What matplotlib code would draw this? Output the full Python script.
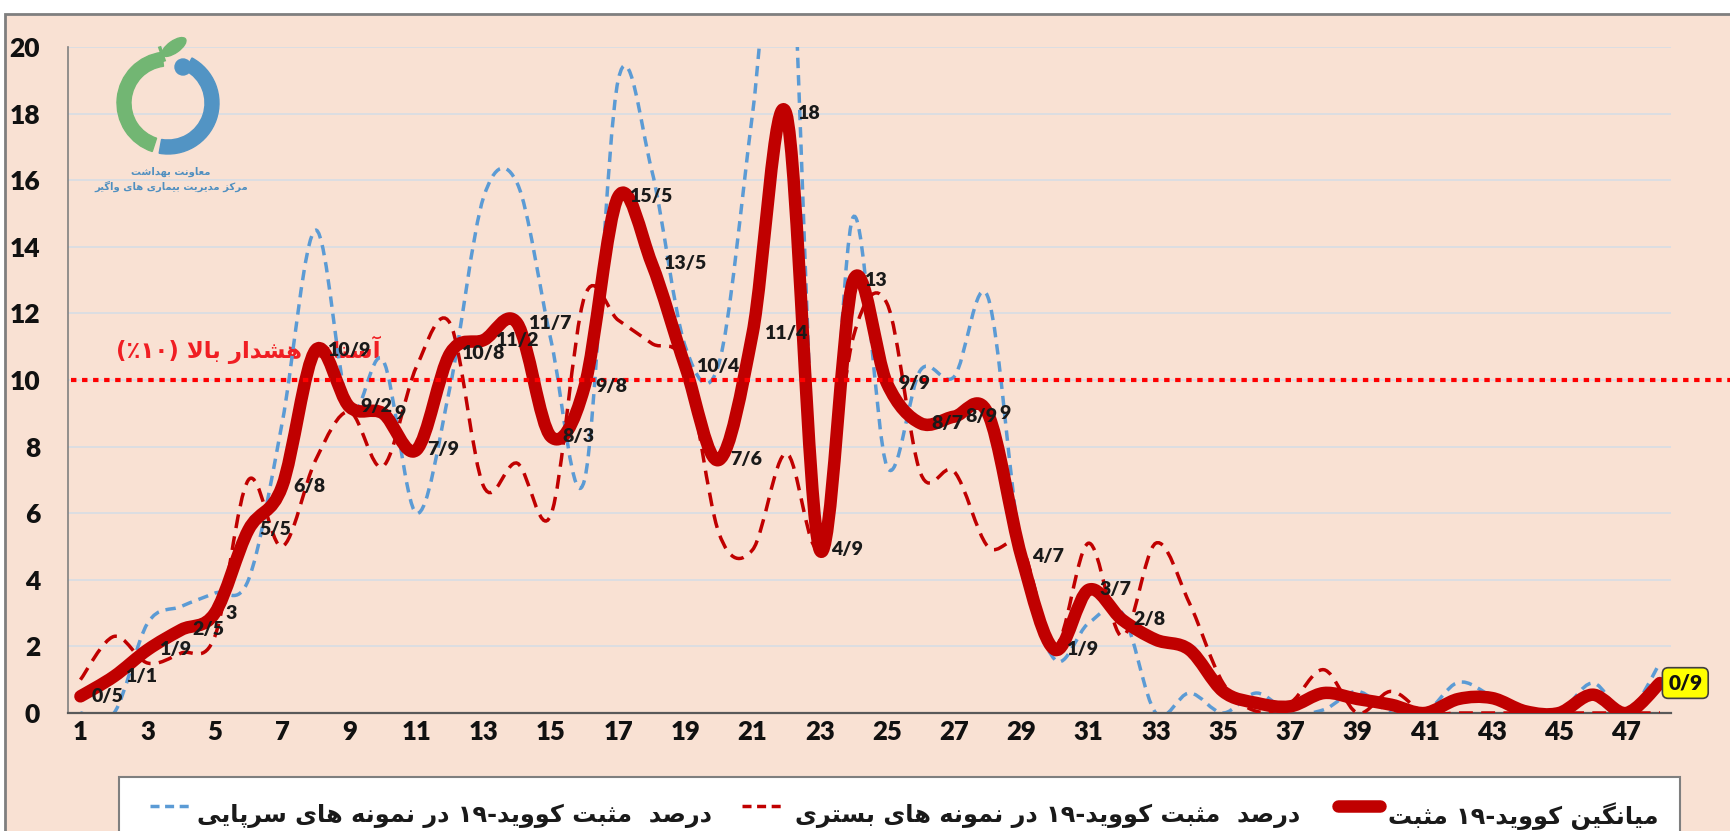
import numpy as np
import matplotlib.pyplot as plt
from matplotlib.path import Path
from matplotlib.patches import PathPatch, Rectangle, Wedge, Circle, Ellipse
from matplotlib.lines import Line2D

plt.rcParams['font.family'] = ['Lato', 'DejaVu Sans']

# ---- data (weekly % positive) ----
weeks = list(range(1, 49))
avg_pos = [0.5, 1.1, 1.9, 2.5, 3.0, 5.5, 6.8, 10.9, 9.2, 9.0, 7.9, 10.8, 11.2, 11.7, 8.3, 9.8,
           15.5, 13.5, 10.4, 7.6, 11.4, 18.0, 4.9, 13.0, 9.9, 8.7, 8.9, 9.0, 4.7, 1.9, 3.7, 2.8,
           2.2, 1.9, 0.65, 0.3, 0.2, 0.6, 0.42, 0.25, 0.0, 0.42, 0.45, 0.05, 0.0, 0.55, 0.0, 0.9]
outpatient_pos = [0.0, 0.0, 2.7, 3.2, 3.6, 4.0, 8.7, 14.5, 9.1, 10.6, 6.0, 9.8, 15.5, 15.9, 11.2, 7.0,
                  19.0, 16.3, 11.0, 10.5, 18.0, 26.0, 5.0, 14.9, 7.4, 10.3, 10.1, 12.5, 4.8, 1.6, 2.7, 3.0,
                  0.0, 0.6, 0.0, 0.6, 0.0, 0.1, 0.65, 0.0, 0.0, 0.92, 0.5, 0.0, 0.0, 0.9, 0.0, 1.5]
inpatient_pos = [1.0, 2.3, 1.5, 1.8, 2.3, 7.0, 5.0, 7.6, 9.05, 7.4, 10.4, 11.7, 6.8, 7.5, 5.95, 12.5,
                 11.8, 11.1, 10.4, 5.4, 4.9, 7.8, 5.0, 11.3, 12.3, 7.2, 7.25, 5.0, 5.0, 2.0, 5.1, 2.3,
                 5.1, 3.3, 0.9, 0.05, 0.3, 1.3, 0.0, 0.65, 0.0, 0.0, 0.0, 0.0, 0.0, 0.0, 0.0, 0.0]
n_labelled = 32
xtick_weeks = list(range(1, 48, 2))
yticks = list(range(0, 21, 2))
threshold = 10

txt_threshold = 'آستانه هشدار بالا (۱۰٪)'
txt_avg = 'میانگین کووید-۱۹ مثبت'
txt_inpatient = 'درصد  مثبت کووید-۱۹ در نمونه های بستری'
txt_outpatient = 'درصد  مثبت کووید-۱۹ در نمونه های سرپایی'
txt_logo1 = 'معاونت بهداشت'
txt_logo2 = 'مرکز مدیریت بیماری های واگیر'

# ---- minimal Persian shaping (matplotlib has no text shaping) ----
FORMS = {
    'ا': ('\uFE8D', '\uFE8E', None, None), 'آ': ('\uFE81', '\uFE82', None, None),
    'ب': ('\uFE8F', '\uFE90', '\uFE91', '\uFE92'), 'پ': ('\uFB56', '\uFB57', '\uFB58', '\uFB59'),
    'ت': ('\uFE95', '\uFE96', '\uFE97', '\uFE98'), 'ث': ('\uFE99', '\uFE9A', '\uFE9B', '\uFE9C'),
    'د': ('\uFEA9', '\uFEAA', None, None), 'ر': ('\uFEAD', '\uFEAE', None, None),
    'ز': ('\uFEAF', '\uFEB0', None, None), 'س': ('\uFEB1', '\uFEB2', '\uFEB3', '\uFEB4'),
    'ش': ('\uFEB5', '\uFEB6', '\uFEB7', '\uFEB8'), 'ص': ('\uFEB9', '\uFEBA', '\uFEBB', '\uFEBC'),
    'ع': ('\uFEC9', '\uFECA', '\uFECB', '\uFECC'), 'ک': ('\uFB8E', '\uFB8F', '\uFB90', '\uFB91'),
    'گ': ('\uFB92', '\uFB93', '\uFB94', '\uFB95'), 'ل': ('\uFEDD', '\uFEDE', '\uFEDF', '\uFEE0'),
    'م': ('\uFEE1', '\uFEE2', '\uFEE3', '\uFEE4'), 'ن': ('\uFEE5', '\uFEE6', '\uFEE7', '\uFEE8'),
    'ه': ('\uFEE9', '\uFEEA', '\uFEEB', '\uFEEC'), 'و': ('\uFEED', '\uFEEE', None, None),
    'ی': ('\uFBFC', '\uFBFD', '\uFBFE', '\uFBFF'),
}
LAM_ALEF = {'ا': ('\uFEFB', '\uFEFC'), 'آ': ('\uFEF5', '\uFEF6')}


def fa(s):
    out = []
    prev_joins = False
    i = 0
    while i < len(s):
        c = s[i]
        if c == 'ل' and i + 1 < len(s) and s[i + 1] in LAM_ALEF:
            iso, fin = LAM_ALEF[s[i + 1]]
            out.append(fin if prev_joins else iso)
            prev_joins = False
            i += 2
            continue
        if c in FORMS:
            iso, fin, ini, med = FORMS[c]
            nxt = s[i + 1] if i + 1 < len(s) else ''
            joins_next = ini is not None and nxt in FORMS
            if prev_joins and joins_next:
                out.append(med)
            elif prev_joins:
                out.append(fin)
            elif joins_next:
                out.append(ini)
            else:
                out.append(iso)
            prev_joins = ini is not None
        else:
            out.append(c)
            prev_joins = False
        i += 1
    res, run = [], []
    for ch in out[::-1]:
        if ch.isdigit():
            run.append(ch)
        else:
            res.extend(run[::-1])
            run = []
            res.append({'(': ')', ')': '('}.get(ch, ch))
    res.extend(run[::-1])
    return ''.join(res)


def smooth_path(x, y):
    # Excel-like smoothed line: cubic bezier through every point
    pts = np.column_stack([np.asarray(x, float), np.asarray(y, float)])
    ext = np.vstack([pts[0], pts, pts[-1]])
    verts, codes = [pts[0]], [Path.MOVETO]
    for i in range(len(pts) - 1):
        p0, p1, p2, p3 = ext[i], ext[i + 1], ext[i + 2], ext[i + 3]
        verts += [p1 + (p2 - p0) / 6, p2 - (p3 - p1) / 6, p2]
        codes += [Path.CURVE4] * 3
    return Path(verts, codes)


W, H = 1730, 831
PEACH = '#F9E1D3'
DARK_RED = '#C00000'
BLUE = '#5B9BD5'
FA_FONT = ['DejaVu Sans']


def fx(px):
    return px / W


def fy(py):
    return 1 - py / H


fig = plt.figure(figsize=(W / 100, H / 100), dpi=100)
fig.patch.set_facecolor('white')
fig.patches.append(Rectangle((fx(5), -0.05), 1.0, fy(14) + 0.05, transform=fig.transFigure,
                             facecolor=PEACH, edgecolor='#7f7f7f', lw=2, zorder=-5))

ax = fig.add_axes([fx(68), fy(713), (1671 - 68) / W, (713 - 47) / H])
ax.set_facecolor('none')
ax.set_xlim(0.63, 48.33)
ax.set_ylim(0, 20)
for side in ['top', 'right']:
    ax.spines[side].set_visible(False)
ax.spines['left'].set_color('#808080')
ax.spines['left'].set_linewidth(1.2)
ax.spines['bottom'].set_color('#595959')
ax.spines['bottom'].set_linewidth(1.6)
ax.set_yticks(yticks)
ax.set_xticks(xtick_weeks)
ax.yaxis.grid(True, color='#D9DDE3', lw=1.3)
ax.set_axisbelow(True)
ax.tick_params(axis='y', length=0, pad=20, labelsize=19, labelcolor='#111111')
ax.tick_params(axis='x', length=0, pad=5, labelsize=18.5, labelcolor='#111111')
for lab in ax.get_xticklabels() + ax.get_yticklabels():
    lab.set_fontweight('heavy')

ax.add_patch(PathPatch(smooth_path(weeks, outpatient_pos), fill=False, edgecolor=BLUE, lw=2.5,
                       linestyle=(0, (3.0, 2.0)), zorder=2))
ax.add_patch(PathPatch(smooth_path(weeks, inpatient_pos), fill=False, edgecolor=DARK_RED, lw=2.5,
                       linestyle=(0, (4.0, 2.4)), zorder=3))
ax.add_patch(PathPatch(smooth_path(weeks, avg_pos), fill=False, edgecolor=DARK_RED, lw=9,
                       capstyle='round', joinstyle='round', zorder=4))

ax.plot([0.002, 1.037], [threshold, threshold], transform=ax.get_yaxis_transform(), clip_on=False,
        color='#FF0000', lw=3, linestyle=(0, (1.3, 1.35)), solid_capstyle='butt', zorder=5)
ax.text(2.05, 10.9, fa(txt_threshold), color='#F01E23', ha='left', va='center', fontsize=16.5,
        fontweight='bold', family=FA_FONT, zorder=1.5)

for wk, v in zip(weeks[:n_labelled], avg_pos[:n_labelled]):
    ax.annotate(f'{v:g}'.replace('.', '/'), (wk, v), xytext=(8, 0), textcoords='offset points',
                ha='left', va='center', fontsize=14, fontweight='heavy', color='#1a1a1a', zorder=6)
ax.annotate(f'{avg_pos[-1]:g}'.replace('.', '/'), (weeks[-1], avg_pos[-1]), xytext=(6, 0),
            textcoords='offset points', ha='left', va='center', fontsize=15, fontweight='heavy',
            color='#111111', annotation_clip=False, zorder=7,
            bbox=dict(boxstyle='round,pad=0.28', fc='#FFFF00', ec='#404040', lw=1.2))

# ---- logo ----
lax = fig.add_axes([fx(100), fy(200), 150 / W, 170 / H])
lax.set_xlim(100, 250)
lax.set_ylim(H - 200, H - 30)
lax.axis('off')
cx, cy = 168, H - 103
lax.add_patch(Wedge((cx, cy), 51, 97, 252, width=14, color='#72B673'))
lax.add_patch(Wedge((cx, cy), 51, -100, 62, width=14, color='#5294C4'))
lax.add_patch(Circle((183, H - 67), 8, color='#5294C4'))
lax.add_patch(Ellipse((174, H - 47), 28, 12, angle=35, color='#72B673'))
lax.plot([160, 164], [H - 48, H - 60], color='#72B673', lw=2.5)
fig.text(fx(171), fy(172), fa(txt_logo1), color='#4F8FC0', ha='center', va='center',
         fontsize=7.2, fontweight='bold', family=FA_FONT)
fig.text(fx(171), fy(186), fa(txt_logo2), color='#4F8FC0', ha='center', va='center',
         fontsize=7.2, fontweight='bold', family=FA_FONT)

# ---- legend (right to left) ----
fig.patches.append(Rectangle((fx(119), fy(845)), (1680 - 119) / W, (845 - 777) / H,
                             transform=fig.transFigure, facecolor='white', edgecolor='#7f7f7f',
                             lw=1.5, zorder=1))
leg_y_text = fy(816)
leg_y_line = fy(806)
fig.lines.append(Line2D([fx(1338), fx(1380)], [leg_y_line, leg_y_line], transform=fig.transFigure,
                        color=DARK_RED, lw=9, solid_capstyle='round', zorder=2))
fig.text(fx(1659), leg_y_text, fa(txt_avg), ha='right', va='center', fontsize=17.3,
         fontweight='bold', family=FA_FONT, color='#1a1a1a')
fig.lines.append(Line2D([fx(742), fx(784)], [leg_y_line, leg_y_line], transform=fig.transFigure,
                        color=DARK_RED, lw=2.5, linestyle=(0, (2.6, 1.6)), zorder=2))
fig.text(fx(1300), leg_y_text, fa(txt_inpatient), ha='right', va='center', fontsize=17.3,
         fontweight='bold', family=FA_FONT, color='#1a1a1a')
fig.lines.append(Line2D([fx(150), fx(193)], [leg_y_line, leg_y_line], transform=fig.transFigure,
                        color=BLUE, lw=2.5, linestyle=(0, (2.6, 1.6)), zorder=2))
fig.text(fx(712), leg_y_text, fa(txt_outpatient), ha='right', va='center', fontsize=17.3,
         fontweight='bold', family=FA_FONT, color='#1a1a1a')

fig.savefig('out.png', dpi=100, facecolor=fig.get_facecolor())
